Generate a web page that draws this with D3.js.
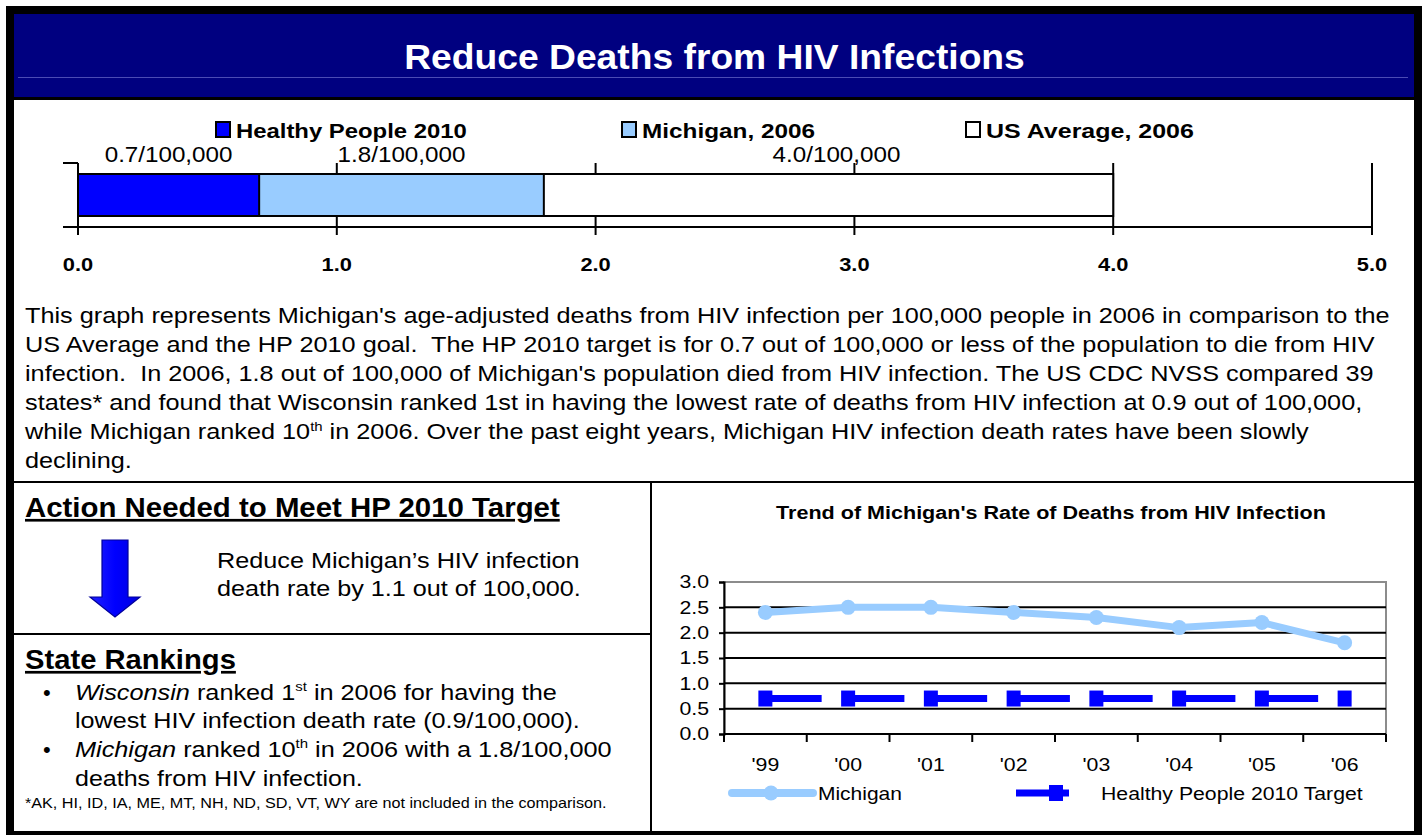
<!DOCTYPE html>
<html>
<head>
<meta charset="utf-8">
<script src="https://cdn.jsdelivr.net/npm/d3@7"></script>
<style>
  html, body { margin: 0; padding: 0; background: #fff; }
  svg { display: block; font-family: Arial, "Liberation Sans", sans-serif; }
  text { white-space: pre; }
</style>
</head>
<body>
<svg id="page" width="1427" height="835"></svg>
<script>
// ---- Comparison bar: 2006 death rates per 100,000 ----
const rateSeries = ["Healthy People 2010", "Michigan, 2006", "US Average, 2006"];
const rateValues = [0.7, 1.8, 4.0];
const rateColors = ["#0000ff", "#99ccff", "#ffffff"];
const rateTicks = [0, 1, 2, 3, 4, 5];

// ---- Trend of Michigan's rate of deaths from HIV infection ----
const trendYears = ["'99", "'00", "'01", "'02", "'03", "'04", "'05", "'06"];
const michiganRates = [2.4, 2.5, 2.5, 2.4, 2.3, 2.1, 2.2, 1.8];
const hpTarget = [0.7, 0.7, 0.7, 0.7, 0.7, 0.7, 0.7, 0.7];
const trendTicks = [0, 0.5, 1.0, 1.5, 2.0, 2.5, 3.0];

const paragraph = [
  "This graph represents Michigan's age-adjusted deaths from HIV infection per 100,000 people in 2006 in comparison to the",
  "US Average and the HP 2010 goal.  The HP 2010 target is for 0.7 out of 100,000 or less of the population to die from HIV",
  "infection.  In 2006, 1.8 out of 100,000 of Michigan's population died from HIV infection. The US CDC NVSS compared 39",
  "states* and found that Wisconsin ranked 1st in having the lowest rate of deaths from HIV infection at 0.9 out of 100,000,",
  null, // line with superscript, built below
  "declining."
];

// The typeface is set a little wide: stretch text horizontally about its anchor.
function stretch(sel, f) {
  sel.each(function () {
    const el = d3.select(this);
    const x = +el.attr("x") || 0;
    el.attr("transform", `translate(${x},0) scale(${f},1) translate(${-x},0)`);
  });
  return sel;
}
// Stretch so that the rendered text spans a given width.
function fitTo(sel, w) {
  sel.each(function () {
    stretch(d3.select(this), w / this.getComputedTextLength());
  });
  return sel;
}

const svg = d3.select("#page");
svg.append("rect").attr("width", 1427).attr("height", 835).attr("fill", "#fff");

// ---- Header ----
svg.append("rect").attr("x", 14).attr("y", 14).attr("width", 1400).attr("height", 84).attr("fill", "#000080");
svg.append("line").attr("x1", 18).attr("x2", 1408).attr("y1", 77.5).attr("y2", 77.5)
  .attr("stroke", "#4b4bb4").attr("stroke-width", 1);
fitTo(svg.append("text").attr("x", 714.5).attr("y", 69).attr("text-anchor", "middle")
  .attr("fill", "#fff").attr("font-weight", "bold").attr("font-size", 35)
  .text("Reduce Deaths from HIV Infections"), 621);
svg.append("line").attr("x1", 14).attr("x2", 1414).attr("y1", 98.5).attr("y2", 98.5)
  .attr("stroke", "#000").attr("stroke-width", 3);

// ---- Comparison bar chart ----
const bx = d3.scaleLinear().domain([0, 5]).range([78, 1372]);
const plotTop = 163, axisY = 227, barTop = 174, barBottom = 216;
const bar = svg.append("g");

// vertical gridlines + ticks
bar.selectAll("line.grid").data(rateTicks).join("line")
  .attr("x1", d => bx(d)).attr("x2", d => bx(d))
  .attr("y1", plotTop).attr("y2", axisY + 8)
  .attr("stroke", "#000").attr("stroke-width", 2);
// category axis with its boundary ticks
bar.append("line").attr("x1", 63).attr("x2", bx(0)).attr("y1", plotTop).attr("y2", plotTop)
  .attr("stroke", "#000").attr("stroke-width", 2);
bar.append("line").attr("x1", 63).attr("x2", bx(5)).attr("y1", axisY).attr("y2", axisY)
  .attr("stroke", "#000").attr("stroke-width", 2);

// overlapping bars, widest drawn first
const order = d3.range(rateValues.length).sort((a, b) => rateValues[b] - rateValues[a]);
bar.selectAll("rect.bar").data(order).join("rect")
  .attr("x", bx(0)).attr("y", barTop)
  .attr("width", i => bx(rateValues[i]) - bx(0)).attr("height", barBottom - barTop)
  .attr("fill", i => rateColors[i]).attr("stroke", "#000").attr("stroke-width", 2);

// value labels centred over each visible segment
stretch(bar.selectAll("text.val").data(rateValues).join("text")
  .attr("x", (d, i) => bx(((i ? rateValues[i - 1] : 0) + d) / 2) + (i === 2 ? 8 : 0))
  .attr("y", 162).attr("text-anchor", "middle").attr("font-size", 22)
  .text(d => d.toFixed(1) + "/100,000"), 1.1);

// tick labels
stretch(bar.selectAll("text.tick").data(rateTicks).join("text")
  .attr("x", d => bx(d)).attr("y", 271).attr("text-anchor", "middle")
  .attr("font-size", 19).attr("font-weight", "bold")
  .text(d => d.toFixed(1)), 1.15);

// legend
const legX = [215, 621, 965];
const legW = [231, 173, 208];
const leg = bar.selectAll("g.leg").data(rateSeries).join("g")
  .attr("transform", (d, i) => `translate(${legX[i]},0)`);
leg.append("rect").attr("x", 1).attr("y", 122).attr("width", 14).attr("height", 15)
  .attr("fill", (d, i) => rateColors[i]).attr("stroke", "#000").attr("stroke-width", 2);
leg.append("text").attr("x", 21).attr("y", 138).attr("font-size", 21).attr("font-weight", "bold")
  .text(d => d)
  .each(function (d, i) { fitTo(d3.select(this), legW[i]); });

// ---- Description paragraph ----
const para = svg.append("g").attr("font-size", 22);
const paraY0 = 323, paraDy = 29;
const paraLines = [];
paragraph.forEach((line, i) => {
  const t = para.append("text").attr("x", 25).attr("y", paraY0 + i * paraDy);
  paraLines.push(t);
  if (line) { t.text(line); return; }
  t.append("tspan").text("while Michigan ranked 10");
  t.append("tspan").attr("font-size", 13).attr("dy", -8).text("th");
  t.append("tspan").attr("dy", 8).text(" in 2006. Over the past eight years, Michigan HIV infection death rates have been slowly");
});
const paraStretch = 1365 / paraLines[0].node().getComputedTextLength();
paraLines.forEach(t => stretch(t, paraStretch));

// ---- Panel dividers ----
svg.append("line").attr("x1", 14).attr("x2", 1414).attr("y1", 482).attr("y2", 482)
  .attr("stroke", "#000").attr("stroke-width", 2);
svg.append("line").attr("x1", 651).attr("x2", 651).attr("y1", 482).attr("y2", 831)
  .attr("stroke", "#000").attr("stroke-width", 2);
svg.append("line").attr("x1", 14).attr("x2", 651).attr("y1", 634).attr("y2", 634)
  .attr("stroke", "#000").attr("stroke-width", 2);

// ---- Action panel ----
const left = svg.append("g");
fitTo(left.append("text").attr("x", 25).attr("y", 517).attr("font-size", 27).attr("font-weight", "bold")
  .attr("text-decoration", "underline").text("Action Needed to Meet HP 2010 Target"), 535);
const grad = svg.append("defs").append("linearGradient").attr("id", "arrowFill")
  .attr("x1", 0).attr("x2", 1).attr("y1", 0).attr("y2", 0);
grad.append("stop").attr("offset", "0%").attr("stop-color", "#2020ff");
grad.append("stop").attr("offset", "50%").attr("stop-color", "#0000ff");
grad.append("stop").attr("offset", "100%").attr("stop-color", "#0000e0");
left.append("path")
  .attr("d", "M102,540 L128,540 L128,597 L140,597 L115,617 L90,597 L102,597 Z")
  .attr("fill", "url(#arrowFill)").attr("stroke", "#000099").attr("stroke-width", 1.2);
fitTo(left.append("text").attr("x", 217).attr("y", 568).attr("font-size", 22)
  .text("Reduce Michigan\u2019s HIV infection"), 363);
fitTo(left.append("text").attr("x", 217).attr("y", 596).attr("font-size", 22)
  .text("death rate by 1.1 out of 100,000."), 364);

// ---- State rankings ----
fitTo(left.append("text").attr("x", 25).attr("y", 669).attr("font-size", 27).attr("font-weight", "bold")
  .attr("text-decoration", "underline").text("State Rankings"), 211);
const rk = left.append("g").attr("font-size", 22);
[700, 757].forEach(y => rk.append("text").attr("x", 43).attr("y", y).text("\u2022"));
let t = rk.append("text").attr("x", 75).attr("y", 700);
t.append("tspan").attr("font-style", "italic").text("Wisconsin");
t.append("tspan").text(" ranked 1");
t.append("tspan").attr("font-size", 13).attr("dy", -9).text("st");
t.append("tspan").attr("dy", 9).text(" in 2006 for having the");
fitTo(t, 482);
fitTo(rk.append("text").attr("x", 75).attr("y", 728).text("lowest HIV infection death rate (0.9/100,000)."), 505);
t = rk.append("text").attr("x", 75).attr("y", 757);
t.append("tspan").attr("font-style", "italic").text("Michigan");
t.append("tspan").text(" ranked 10");
t.append("tspan").attr("font-size", 13).attr("dy", -9).text("th");
t.append("tspan").attr("dy", 9).text(" in 2006 with a 1.8/100,000");
fitTo(t, 537);
fitTo(rk.append("text").attr("x", 75).attr("y", 786).text("deaths from HIV infection."), 288);
fitTo(left.append("text").attr("x", 25).attr("y", 808).attr("font-size", 14)
  .text("*AK, HI, ID, IA, ME, MT, NH, ND, SD, VT, WY are not included in the comparison."), 582);

// ---- Trend chart ----
const tr = svg.append("g");
fitTo(tr.append("text").attr("x", 1051).attr("y", 519).attr("text-anchor", "middle")
  .attr("font-size", 18.5).attr("font-weight", "bold")
  .text("Trend of Michigan's Rate of Deaths from HIV Infection"), 550);

const tx = d3.scaleBand().domain(trendYears).range([724, 1386]);
const ty = d3.scaleLinear().domain([0, 3]).range([734, 582]);
const cx = d => tx(d) + tx.bandwidth() / 2;

// plot area border
tr.append("rect").attr("x", 724).attr("y", ty(3)).attr("width", 1386 - 724).attr("height", ty(0) - ty(3))
  .attr("fill", "none").attr("stroke", "#8c8c8c").attr("stroke-width", 2);
// horizontal gridlines
tr.selectAll("line.hg").data(trendTicks.filter(d => d > 0 && d < 3)).join("line")
  .attr("x1", 724).attr("x2", 1386).attr("y1", d => ty(d)).attr("y2", d => ty(d))
  .attr("stroke", "#000").attr("stroke-width", 2);

// axes
const yAxis = tr.append("g").attr("transform", "translate(724,0)")
  .call(d3.axisLeft(ty).tickValues(trendTicks).tickFormat(d3.format(".1f")).tickSize(5).tickPadding(10));
const xAxis = tr.append("g").attr("transform", `translate(0,${ty(0)})`)
  .call(d3.axisBottom(tx).tickSize(0).tickPadding(24));
[yAxis, xAxis].forEach(a => {
  a.selectAll("path.domain").attr("stroke", "#000").attr("stroke-width", 2);
  a.selectAll("line").attr("stroke", "#000").attr("stroke-width", 2);
  stretch(a.selectAll("text").attr("fill", "#000").attr("font-size", 18.5)
    .attr("font-family", "Arial, 'Liberation Sans', sans-serif"), 1.15);
});
xAxis.select("path.domain").attr("d", "M724,0H1386");
// category boundary ticks
const bounds = trendYears.map(d => tx(d)).concat([tx.range()[1]]);
xAxis.selectAll("line.bt").data(bounds).join("line")
  .attr("x1", d => d).attr("x2", d => d).attr("y1", 0).attr("y2", 8)
  .attr("stroke", "#000").attr("stroke-width", 2);

// Healthy People 2010 target: long-dash line with square markers
const hpLine = d3.line().x((d, i) => cx(trendYears[i])).y(d => ty(d));
const dash = tx.bandwidth();
tr.append("path").datum(hpTarget).attr("d", hpLine).attr("fill", "none")
  .attr("stroke", "#0000ff").attr("stroke-width", 7)
  .attr("stroke-dasharray", `${dash * 0.68},${dash * 0.32}`);
tr.selectAll("rect.hp").data(hpTarget).join("rect")
  .attr("x", (d, i) => cx(trendYears[i]) - 7).attr("y", d => ty(d) - 8)
  .attr("width", 14).attr("height", 16).attr("fill", "#0000ff");

// Michigan trend
const miLine = d3.line().x((d, i) => cx(trendYears[i])).y(d => ty(d));
tr.append("path").datum(michiganRates).attr("d", miLine).attr("fill", "none")
  .attr("stroke", "#99ccff").attr("stroke-width", 7).attr("stroke-linejoin", "round");
tr.selectAll("circle.mi").data(michiganRates).join("circle")
  .attr("cx", (d, i) => cx(trendYears[i])).attr("cy", d => ty(d)).attr("r", 7.5)
  .attr("fill", "#99ccff");

// legend
const ly = 793;
tr.append("line").attr("x1", 732).attr("x2", 813).attr("y1", ly).attr("y2", ly)
  .attr("stroke", "#99ccff").attr("stroke-width", 8).attr("stroke-linecap", "round");
tr.append("circle").attr("cx", 771).attr("cy", ly).attr("r", 7.5).attr("fill", "#99ccff");
fitTo(tr.append("text").attr("x", 818).attr("y", ly + 7).attr("font-size", 18.5).text("Michigan"), 84);
tr.append("line").attr("x1", 1016).attr("x2", 1069).attr("y1", ly).attr("y2", ly)
  .attr("stroke", "#0000ff").attr("stroke-width", 7);
tr.append("rect").attr("x", 1049).attr("y", ly - 8).attr("width", 14).attr("height", 16).attr("fill", "#0000ff");
fitTo(tr.append("text").attr("x", 1101).attr("y", ly + 7).attr("font-size", 18.5)
  .text("Healthy People 2010 Target"), 262);

// ---- Outer frame ----
svg.append("rect").attr("x", 10).attr("y", 10).attr("width", 1408).attr("height", 825)
  .attr("fill", "none").attr("stroke", "#000").attr("stroke-width", 8);
</script>
</body>
</html>
